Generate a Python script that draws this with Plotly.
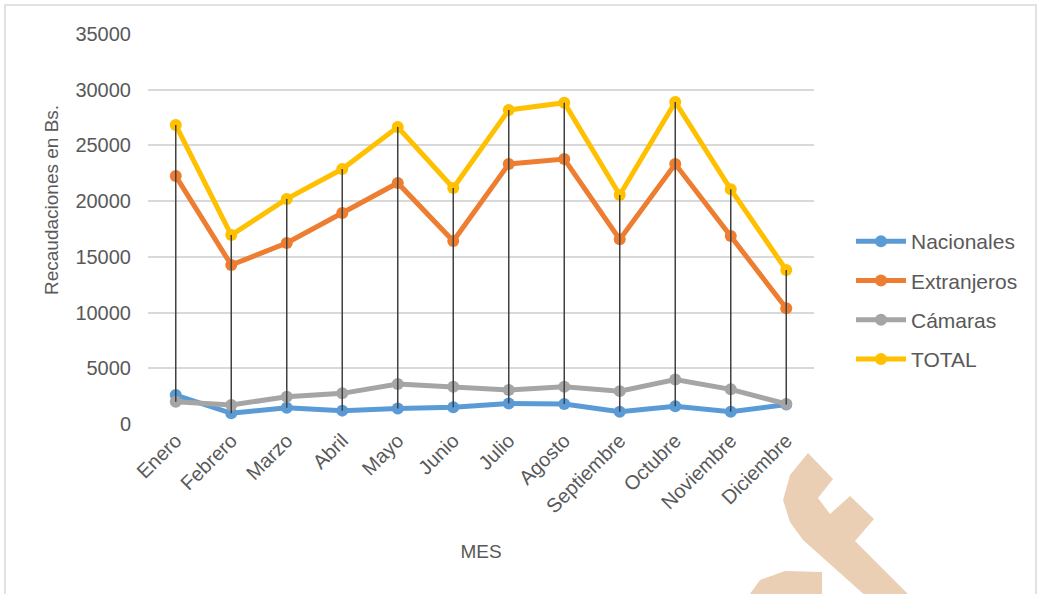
import plotly.graph_objects as go

meses = ["Enero", "Febrero", "Marzo", "Abril", "Mayo", "Junio", "Julio",
         "Agosto", "Septiembre", "Octubre", "Noviembre", "Diciembre"]
nacionales = [2600, 960, 1460, 1200, 1400, 1500, 1850, 1800, 1100, 1600, 1100, 1750]
extranjeros = [22250, 14270, 16240, 18930, 21630, 16420, 23330, 23780, 16570, 23330, 16870, 10380]
camaras = [2000, 1700, 2450, 2750, 3590, 3350, 3050, 3350, 2950, 4000, 3110, 1800]
total = [26830, 16960, 20200, 22880, 26650, 21180, 28180, 28830, 20550, 28900, 21060, 13820]

y_ticks = [0, 5000, 10000, 15000, 20000, 25000, 30000, 35000]

series = [
    ("Nacionales", nacionales, "#5B9BD5"),
    ("Extranjeros", extranjeros, "#ED7D31"),
    ("Cámaras", camaras, "#A5A5A5"),
    ("TOTAL", total, "#FFC000"),
]

# plot area in pixels (layout-only helpers)
L, R, T, B = 148, 814, 34, 424
W, H = 1038, 594


def px(x, y):
    return (x - L) / (R - L), (B - y) / (B - T)


fig = go.Figure()

for name, vals, color in series:
    fig.add_trace(go.Scatter(
        x=meses, y=vals, name=name, mode="lines+markers",
        line=dict(color=color, width=5),
        marker=dict(color=color, size=12),
        legendgroup=name,
    ))

# high-low lines (max to min of all series at each month)
hl_x, hl_y = [], []
for i, m in enumerate(meses):
    vals = [s[1][i] for s in series]
    hl_x += [m, m, None]
    hl_y += [max(vals), min(vals), None]
fig.add_trace(go.Scatter(x=hl_x, y=hl_y, mode="lines",
                         line=dict(color="#404040", width=1.5),
                         showlegend=False, hoverinfo="skip"))

font_color = "#595959"
font_family = "Liberation Sans, Arial, sans-serif"

# watermark path (decorative)
pts = [(808, 453), (833, 479), (818, 498), (830, 514), (850, 496), (874, 519),
       (855, 541), (912, 598), (868, 598), (803, 540), (790, 522), (783, 500), (790, 475)]
path = "M " + " L ".join(f"{px(x, y)[0]:.4f},{px(x, y)[1]:.4f}" for x, y in pts) + " Z"
pts2 = [(747, 598), (760, 580), (785, 571), (822, 572), (822, 598)]
path2 = "M " + " L ".join(f"{px(x, y)[0]:.4f},{px(x, y)[1]:.4f}" for x, y in pts2) + " Z"

bx0, by0 = px(5, 5)
bx1, by1 = px(1036, 600)

fig.update_layout(
    width=W, height=H,
    margin=dict(l=L, r=W - R, t=T, b=H - B),
    paper_bgcolor="white", plot_bgcolor="white",
    font=dict(family=font_family, size=20, color=font_color),
    showlegend=True,
    legend=dict(x=px(851, 0)[0], xanchor="left", y=px(0, 221)[1], yanchor="top",
                font=dict(size=21, color=font_color), tracegroupgap=9,
                itemwidth=50, bgcolor="rgba(0,0,0,0)"),
    xaxis=dict(
        type="category", tickangle=-45, showgrid=False, zeroline=False,
        showline=False, ticks="", tickfont=dict(size=20, color=font_color),
        title=dict(text="MES", font=dict(size=19, color=font_color), standoff=28),
        range=[-0.5, 11.5],
    ),
    yaxis=dict(
        range=[0, 35000], tickvals=y_ticks, tickformat="d", showgrid=True,
        gridcolor="#D9D9D9", gridwidth=1.5, zeroline=False, showline=False,
        ticks="", ticklabelstandoff=16, tickfont=dict(size=20, color=font_color),
    ),
    annotations=[dict(text="Recaudaciones en Bs.", textangle=-90, showarrow=False,
                      xref="paper", yref="paper", x=px(51, 0)[0], y=px(0, 200)[1],
                      xanchor="center", yanchor="middle",
                      font=dict(size=19, color=font_color))],
    shapes=[
        dict(type="path", path=path, xref="paper", yref="paper",
             fillcolor="#EBCFB5", line=dict(width=0), layer="above"),
        dict(type="path", path=path2, xref="paper", yref="paper",
             fillcolor="#EBCFB5", line=dict(width=0), layer="above"),
        dict(type="rect", xref="paper", yref="paper", x0=bx0, y0=by0, x1=bx1, y1=by1,
             line=dict(color="#D9D9D9", width=1.5), fillcolor="rgba(0,0,0,0)", layer="below"),
    ],
)

fig.write_html("out.html", config={"displayModeBar": False},
               post_script="document.body.style.margin='0';")
